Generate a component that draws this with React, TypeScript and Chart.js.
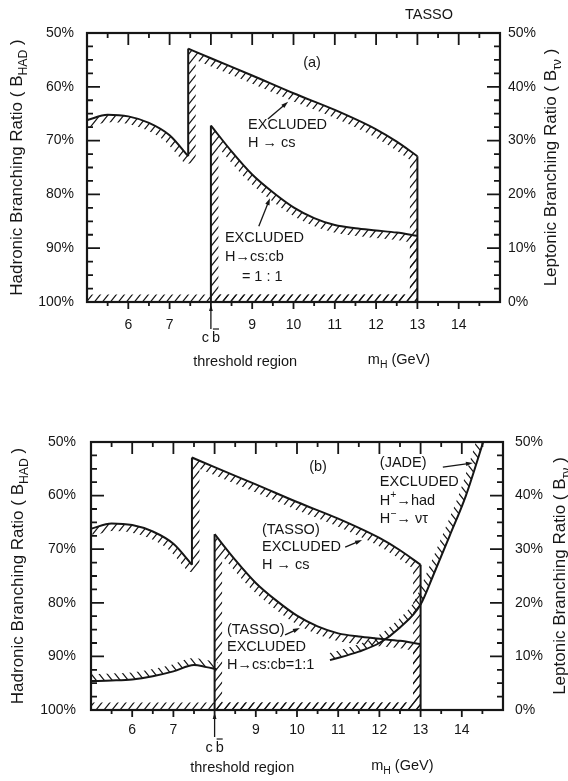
import React, { useEffect, useRef } from 'react';
import { Chart, registerables } from 'chart.js';

Chart.register(...registerables);

const W = 568;
const INK = '#161616';
const FONT = '"Liberation Sans", "DejaVu Sans", Arial, sans-serif';

// ---- axes ----
const massMin = 5;
const massMax = 15;
const massTickLabels = [6, 7, 9, 10, 11, 12, 13, 14];
const bhadMin = 50;
const bhadMax = 100;
const bhadTicks = [50, 60, 70, 80, 90, 100];
const btauTicks = [0, 10, 20, 30, 40, 50];

// ---- TASSO boundaries (m_H in GeV, B_HAD in %) ----
const csLeftMass = [5.0, 5.5, 6.0, 6.5, 7.0, 7.45];
const csLeftBhad = [66.2, 65.2, 65.5, 66.7, 69.0, 72.9];
const csTopMass = [7.45, 8.0, 9.0, 10.0, 11.0, 12.0, 12.5, 13.0];
const csTopBhad = [52.9, 54.7, 57.9, 61.2, 64.3, 67.9, 70.2, 72.9];
const cbMass = [8.0, 8.5, 9.0, 9.5, 10.0, 10.5, 11.0, 11.5, 12.0, 12.5, 13.0];
const cbBhad = [67.2, 72.0, 76.3, 79.6, 82.4, 84.4, 85.7, 86.3, 86.7, 87.1, 87.7];

// ---- JADE boundary (panel b) ----
const jadeLowMass = [5.0, 5.5, 6.0, 6.5, 7.0, 7.5, 7.8, 8.05];
const jadeLowBhad = [94.6, 94.5, 94.3, 93.7, 92.8, 91.6, 92.0, 92.4];
const jadeHighMass = [10.8, 11.5, 12.0, 12.5, 13.0, 13.3, 13.7, 14.1, 14.52];
const jadeHighBhad = [90.7, 89.1, 87.5, 84.6, 80.3, 75.0, 67.6, 60.0, 50.0];

type Part = string | { t: string; sub?: boolean; sup?: boolean; over?: boolean };

const last = (a: any[]) => a[a.length - 1];
const zip = (xs: number[], ys: number[]) => xs.map((x, i) => ({ x, y: ys[i] }));

function tassoDatasets() {
  return [
    { label: 'csLeft', data: zip(csLeftMass, csLeftBhad), cubicInterpolationMode: 'monotone' },
    { label: 'csStep', data: [{ x: last(csLeftMass), y: last(csLeftBhad) }, { x: csTopMass[0], y: csTopBhad[0] }] },
    { label: 'csTop', data: zip(csTopMass, csTopBhad), cubicInterpolationMode: 'monotone' },
    { label: 'csEdge', data: [{ x: last(csTopMass), y: last(csTopBhad) }, { x: last(csTopMass), y: bhadMax }] },
    { label: 'cbEdge', data: [{ x: cbMass[0], y: bhadMax }, { x: cbMass[0], y: cbBhad[0] }] },
    { label: 'cbCurve', data: zip(cbMass, cbBhad), cubicInterpolationMode: 'monotone' },
  ];
}
function jadeDatasets() {
  return [
    { label: 'jadeLow', data: zip(jadeLowMass, jadeLowBhad), cubicInterpolationMode: 'monotone' },
    { label: 'jadeHigh', data: zip(jadeHighMass, jadeHighBhad), cubicInterpolationMode: 'monotone' },
  ];
}

const PANELS = [
  {
    id: 'a', offset: 0, height: 390,
    area: { left: 87, right: 500, top: 33, bottom: 302 },
    pad: { x: 15, y: 13, y2: 8 },
    titleX: { left: 17, right: 551 },
    jade: false,
    header: 'TASSO',
    threshX: 8.83, footY: 60, cbY: 36,
    notes: [
      { parts: ['(a)'], m: 10.45, b: 55.6, align: 'center' },
      { parts: ['EXCLUDED'], m: 8.9, b: 67.1 },
      { parts: ['H → cs'], m: 8.9, b: 70.4 },
      { parts: ['EXCLUDED'], m: 8.34, b: 88.1 },
      { parts: ['H→cs:cb'], m: 8.34, b: 91.6 },
      { parts: ['= 1 : 1'], m: 8.75, b: 95.4 },
    ],
    arrows: [
      { from: [9.38, 66.0], to: [9.87, 62.8] },
      { from: [9.16, 85.9], to: [9.43, 80.7] },
    ],
  },
  {
    id: 'b', offset: 390, height: 391,
    area: { left: 91, right: 503, top: 52, bottom: 320 },
    pad: { x: 12, y: 15, y2: 12 },
    titleX: { left: 18, right: 560 },
    jade: true,
    header: '',
    threshX: 8.67, footY: 58, cbY: 38,
    notes: [
      { parts: ['(b)'], m: 10.51, b: 54.7, align: 'center' },
      { parts: ['(TASSO)'], m: 9.15, b: 66.4 },
      { parts: ['EXCLUDED'], m: 9.15, b: 69.6 },
      { parts: ['H → cs'], m: 9.15, b: 73.0 },
      { parts: ['(TASSO)'], m: 8.3, b: 85.1 },
      { parts: ['EXCLUDED'], m: 8.3, b: 88.2 },
      { parts: ['H→cs:cb=1:1'], m: 8.3, b: 91.6 },
      { parts: ['(JADE)'], m: 12.01, b: 53.9 },
      { parts: ['EXCLUDED'], m: 12.01, b: 57.5 },
      { parts: ['H', { t: '+', sup: true }, '→had'], m: 12.01, b: 61.0 },
      { parts: ['H', { t: '−', sup: true }, '→ ντ'], m: 12.01, b: 64.4 },
    ],
    arrows: [
      { from: [11.17, 69.6], to: [11.58, 68.3] },
      { from: [9.71, 86.0], to: [10.07, 84.7] },
      { from: [13.54, 54.7], to: [14.27, 53.9] },
    ],
  },
];

function drawRich(ctx: CanvasRenderingContext2D, parts: Part[], x: number, y: number, size: number, align = 'left') {
  const segs = parts.map((p) => (typeof p === 'string' ? { t: p } : p)) as any[];
  const font = (s: number) => `${s}px ${FONT}`;
  const sizes = segs.map((s) => (s.sub || s.sup ? size * 0.72 : size));
  const widths = segs.map((s, i) => {
    ctx.font = font(sizes[i]);
    return ctx.measureText(s.t).width;
  });
  const total = widths.reduce((a, b) => a + b, 0);
  let cx = align === 'center' ? x - total / 2 : align === 'right' ? x - total : x;
  ctx.textAlign = 'left';
  ctx.textBaseline = 'middle';
  ctx.fillStyle = INK;
  segs.forEach((s, i) => {
    ctx.font = font(sizes[i]);
    const dy = s.sub ? size * 0.38 : s.sup ? -size * 0.38 : 0;
    ctx.fillText(s.t, cx, y + dy);
    if (s.over) {
      ctx.beginPath();
      ctx.lineWidth = 1.2;
      ctx.strokeStyle = INK;
      ctx.moveTo(cx + 1, y - size * 0.62);
      ctx.lineTo(cx + widths[i] - 1, y - size * 0.62);
      ctx.stroke();
    }
    cx += widths[i];
  });
}

function arrow(ctx: CanvasRenderingContext2D, x0: number, y0: number, x1: number, y1: number, head = 7) {
  const a = Math.atan2(y1 - y0, x1 - x0);
  const c = Math.cos(a), s = Math.sin(a);
  ctx.save();
  ctx.strokeStyle = INK;
  ctx.fillStyle = INK;
  ctx.lineWidth = 1.3;
  ctx.beginPath();
  ctx.moveTo(x0, y0);
  ctx.lineTo(x1 - c * head * 0.7, y1 - s * head * 0.7);
  ctx.stroke();
  ctx.beginPath();
  ctx.moveTo(x1, y1);
  ctx.lineTo(x1 - head * c + head * 0.32 * s, y1 - head * s - head * 0.32 * c);
  ctx.lineTo(x1 - head * c - head * 0.32 * s, y1 - head * s + head * 0.32 * c);
  ctx.closePath();
  ctx.fill();
  ctx.restore();
}

function makePattern(ctx: CanvasRenderingContext2D, dir: string) {
  const pw = 8, ph = 10;
  const c = document.createElement('canvas');
  c.width = pw;
  c.height = ph;
  const g = c.getContext('2d')!;
  g.strokeStyle = INK;
  g.lineWidth = 1.2;
  g.beginPath();
  for (let k = -1; k <= 1; k++) {
    const ox = k * pw;
    if (dir === '/') {
      g.moveTo(ox - pw * 0.3, ph * 1.3);
      g.lineTo(ox + pw * 1.3, -ph * 0.3);
    } else {
      g.moveTo(ox - pw * 0.3, -ph * 0.3);
      g.lineTo(ox + pw * 1.3, ph * 1.3);
    }
  }
  g.stroke();
  return ctx.createPattern(c, 'repeat')!;
}

function getSeg(chart: any, label: string) {
  const i = chart.data.datasets.findIndex((d: any) => d.label === label);
  const meta = chart.getDatasetMeta(i);
  const ds = chart.data.datasets[i];
  if (meta.dataset && typeof meta.dataset.updateControlPoints === 'function') {
    meta.dataset.updateControlPoints(chart.chartArea, 'x');
  }
  return { pts: meta.data as any[], curved: ds.cubicInterpolationMode === 'monotone' };
}

function trace(ctx: CanvasRenderingContext2D, seg: any, move: boolean) {
  const { pts, curved } = seg;
  pts.forEach((p: any, i: number) => {
    if (i === 0) {
      if (move) ctx.moveTo(p.x, p.y);
      else ctx.lineTo(p.x, p.y);
      return;
    }
    const q = pts[i - 1];
    if (curved && q.cp2x !== undefined && p.cp1x !== undefined && isFinite(q.cp2x) && isFinite(p.cp1x)) {
      ctx.bezierCurveTo(q.cp2x, q.cp2y, p.cp1x, p.cp1y, p.x, p.y);
    } else ctx.lineTo(p.x, p.y);
  });
}

function hatchRegion(ctx: CanvasRenderingContext2D, outline: () => void, band: () => void, pattern: CanvasPattern, width: number) {
  ctx.save();
  ctx.beginPath();
  outline();
  ctx.closePath();
  ctx.clip();
  ctx.beginPath();
  band();
  ctx.strokeStyle = pattern;
  ctx.lineWidth = width;
  ctx.lineJoin = 'round';
  ctx.stroke();
  ctx.restore();
}

function drawHatches(chart: any, cfg: any) {
  const ctx: CanvasRenderingContext2D = chart.ctx;
  const { x, y } = chart.scales;
  const px = (m: number, b: number): [number, number] => [x.getPixelForValue(m), y.getPixelForValue(b)];
  const slash = makePattern(ctx, '/');
  const back = makePattern(ctx, '\\');

  if (cfg.jade) {
    const JL = getSeg(chart, 'jadeLow');
    const JH = getSeg(chart, 'jadeHigh');
    hatchRegion(
      ctx,
      () => { trace(ctx, JL, true); trace(ctx, JH, false); ctx.lineTo(...px(massMin, bhadMin)); },
      () => { trace(ctx, JL, true); trace(ctx, JH, true); },
      back, 14,
    );
  }

  const L = getSeg(chart, 'csLeft');
  const S = getSeg(chart, 'csStep');
  const T = getSeg(chart, 'csTop');
  const E = getSeg(chart, 'csEdge');
  const E8 = getSeg(chart, 'cbEdge');
  const C = getSeg(chart, 'cbCurve');
  const csPath = () => {
    trace(ctx, L, true); trace(ctx, S, false); trace(ctx, T, false); trace(ctx, E, false);
    ctx.lineTo(...px(massMin, bhadMax));
  };
  hatchRegion(ctx, csPath, csPath, slash, 15);
  const cbPath = () => {
    trace(ctx, E8, true); trace(ctx, C, false);
    ctx.lineTo(...px(last(cbMass), bhadMax));
    ctx.closePath();
  };
  hatchRegion(ctx, cbPath, cbPath, slash, 15);
}

function drawFrame(chart: any) {
  const ctx: CanvasRenderingContext2D = chart.ctx;
  const a = chart.chartArea;
  const { x, y } = chart.scales;
  ctx.save();
  ctx.strokeStyle = INK;
  ctx.lineWidth = 1.8;
  ctx.beginPath();
  for (let v = massMin + 0.5; v < massMax - 0.01; v += 0.5) {
    const p = x.getPixelForValue(v);
    const major = Math.abs(v - Math.round(v)) < 1e-6;
    ctx.moveTo(p, a.top);
    ctx.lineTo(p, a.top + (major ? 12 : 5));
    ctx.moveTo(p, a.bottom);
    ctx.lineTo(p, a.bottom + (major ? 7 : 4));
  }
  for (let v = bhadMin + 2.5; v < bhadMax - 0.01; v += 2.5) {
    const p = y.getPixelForValue(v);
    const len = Math.abs(v % 10) < 1e-6 ? 13 : 6;
    ctx.moveTo(a.left, p);
    ctx.lineTo(a.left + len, p);
    ctx.moveTo(a.right, p);
    ctx.lineTo(a.right - len, p);
  }
  ctx.stroke();
  ctx.lineWidth = 2.2;
  ctx.strokeRect(a.left, a.top, a.right - a.left, a.bottom - a.top);
  ctx.restore();
}

function drawNotes(chart: any, cfg: any) {
  const ctx: CanvasRenderingContext2D = chart.ctx;
  const a = chart.chartArea;
  const { x, y } = chart.scales;
  ctx.save();
  cfg.notes.forEach((n: any) => {
    drawRich(ctx, n.parts, x.getPixelForValue(n.m), y.getPixelForValue(n.b), 14.5, n.align || 'left');
  });
  cfg.arrows.forEach((r: any) => {
    arrow(ctx, x.getPixelForValue(r.from[0]), y.getPixelForValue(r.from[1]), x.getPixelForValue(r.to[0]), y.getPixelForValue(r.to[1]));
  });

  // c b-bar threshold marker under the axis
  const p8 = x.getPixelForValue(cbMass[0]);
  arrow(ctx, p8, a.bottom + 27, p8, a.bottom + 3, 6);
  drawRich(ctx, ['c\u2009', { t: 'b', over: true }], p8, a.bottom + cfg.cbY, 14.5, 'center');
  drawRich(ctx, ['threshold region'], x.getPixelForValue(cfg.threshX), a.bottom + cfg.footY, 14.5, 'center');
  drawRich(ctx, ['m', { t: 'H', sub: true }, ' (GeV)'], x.getPixelForValue(11.8), a.bottom + cfg.footY - 2, 14.5, 'left');

  if (cfg.header) {
    drawRich(ctx, [cfg.header], x.getPixelForValue(13.28), a.top - 18, 14.5, 'center');
  }

  const midY = (a.top + a.bottom) / 2;
  ctx.save();
  ctx.translate(cfg.titleX.left, midY);
  ctx.rotate(-Math.PI / 2);
  drawRich(ctx, ['Hadronic Branching Ratio ( B', { t: 'HAD', sub: true }, ' )'], 0, 0, 17, 'center');
  ctx.restore();
  ctx.save();
  ctx.translate(cfg.titleX.right, midY);
  ctx.rotate(-Math.PI / 2);
  drawRich(ctx, ['Leptonic Branching Ratio ( B', { t: 'τν', sub: true }, ' )'], 0, 0, 17, 'center');
  ctx.restore();
  ctx.restore();
}

function buildChart(canvas: HTMLCanvasElement, cfg: any) {
  const A = cfg.area;
  const datasets = [...(cfg.jade ? jadeDatasets() : []), ...tassoDatasets()].map((d) => ({
    borderColor: INK,
    borderWidth: 2,
    pointRadius: 0,
    tension: 0,
    fill: false,
    ...d,
  }));
  const tickFont = { family: FONT, size: 14 };
  return new Chart(canvas, {
    type: 'line',
    data: { datasets } as any,
    options: {
      responsive: false,
      animation: false,
      devicePixelRatio: 1,
      events: [],
      layout: { padding: { top: A.top, left: 0, right: 0, bottom: 0 } },
      plugins: { legend: { display: false }, tooltip: { enabled: false }, title: { display: false } },
      scales: {
        x: {
          type: 'linear',
          position: 'bottom',
          min: massMin,
          max: massMax,
          grid: { display: false, drawTicks: false },
          border: { display: false },
          afterBuildTicks: (s: any) => { s.ticks = massTickLabels.map((value) => ({ value })); },
          ticks: { color: INK, font: tickFont, autoSkip: false, maxRotation: 0, padding: cfg.pad.x, callback: (v: any) => String(v) },
          afterFit: (s: any) => { s.height = cfg.height - A.bottom; },
        },
        y: {
          type: 'linear',
          position: 'left',
          min: bhadMin,
          max: bhadMax,
          reverse: true,
          grid: { display: false, drawTicks: false },
          border: { display: false },
          afterBuildTicks: (s: any) => { s.ticks = bhadTicks.map((value) => ({ value })); },
          ticks: { color: INK, font: tickFont, padding: cfg.pad.y, callback: (v: any) => `${v}%` },
          afterFit: (s: any) => { s.width = A.left; },
        },
        y2: {
          type: 'linear',
          position: 'right',
          min: 0,
          max: 50,
          grid: { display: false, drawTicks: false },
          border: { display: false },
          afterBuildTicks: (s: any) => { s.ticks = btauTicks.map((value) => ({ value })); },
          ticks: { color: INK, font: tickFont, padding: cfg.pad.y2, callback: (v: any) => `${v}%` },
          afterFit: (s: any) => { s.width = W - A.right; },
        },
      },
    } as any,
    plugins: [
      {
        id: 'paper' + cfg.id,
        beforeDatasetsDraw: (chart: any) => drawHatches(chart, cfg),
        afterDraw: (chart: any) => { drawFrame(chart); drawNotes(chart, cfg); },
      },
    ],
  });
}

function Panel({ cfg }: { cfg: any }) {
  const ref = useRef<HTMLCanvasElement>(null);
  useEffect(() => {
    const chart = buildChart(ref.current!, cfg);
    return () => chart.destroy();
  }, [cfg]);
  return (
    <canvas
      ref={ref}
      width={W}
      height={cfg.height}
      style={{ position: 'absolute', left: 0, top: cfg.offset, width: W, height: cfg.height, display: 'block' }}
    />
  );
}

export default function App() {
  return (
    <div style={{ position: 'absolute', left: 0, top: 0, width: W, height: 781, background: '#fff', overflow: 'hidden' }}>
      {PANELS.map((p) => (
        <Panel key={p.id} cfg={p} />
      ))}
    </div>
  );
}
